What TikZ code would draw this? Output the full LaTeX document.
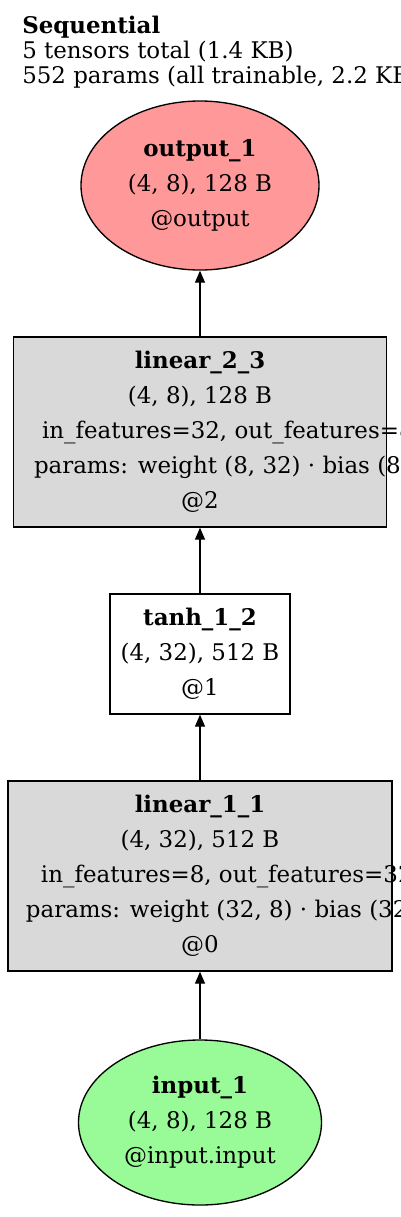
\documentclass[tikz,border=0pt]{standalone}
\usepackage{fontspec}
\setmainfont{DejaVu Serif}
\usetikzlibrary{shapes.geometric,arrows.meta}

\newlength\pxu
\setlength\pxu{0.75pt}

\definecolor{outred}{HTML}{FF9999}
\definecolor{ingreen}{HTML}{98FB98}
\definecolor{laygray}{HTML}{D9D9D9}

\begin{document}
\begin{tikzpicture}[
  x=0.75pt,
  y=-0.75pt,
  font=\fontsize{17.2}{26.25}\selectfont,
  layer/.style={
    rectangle,
    draw,
    line width=1pt,
    inner sep=0pt,
    align=center
  },
  tensor/.style={
    ellipse,
    draw,
    line width=1pt,
    inner sep=0pt,
    align=center
  },
  arr/.style={
    -{Triangle[length=9pt,width=7.5pt]},
    line width=1pt
  }
]

\useasboundingbox (0,0) rectangle (400,1217);

% =========================================================
% CABECERA
% =========================================================

\node[
  anchor=north west,
  align=left,
  inner sep=0pt,
  font=\fontsize{17.2}{18.75}\selectfont
] (head) at (22,16)
  {\textbf{Sequential}\\
   5 tensors total (1.4 KB)\\
   552 params (all trainable, 2.2 KB)};

% =========================================================
% NODOS
% =========================================================

\node[tensor, fill=outred, minimum width=238\pxu, minimum height=169\pxu]
  (out) at (200,185.5)
  {\textbf{output\_1}\\(4, 8), 128 B\\@output};

\node[layer, fill=laygray, minimum width=373\pxu, minimum height=190\pxu]
  (lin2) at (200,432)
  {\textbf{linear\_2\_3}\\
   (4, 8), 128 B\\
   \makebox[316\pxu][l]{in\_features=32, out\_features=8}\\
   \makebox[332\pxu][l]{params: weight (8, 32) · bias (8)}\\
   @2};

\node[layer, fill=white, minimum width=180\pxu, minimum height=120\pxu]
  (tanh) at (200,654)
  {\textbf{tanh\_1\_2}\\(4, 32), 512 B\\@1};

\node[layer, fill=laygray, minimum width=384\pxu, minimum height=190\pxu]
  (lin1) at (200,876)
  {\textbf{linear\_1\_1}\\
   (4, 32), 512 B\\
   \makebox[318\pxu][l]{in\_features=8, out\_features=32}\\
   \makebox[348\pxu][l]{params: weight (32, 8) · bias (32)}\\
   @0};

\node[tensor, fill=ingreen, minimum width=243\pxu, minimum height=165\pxu]
  (in) at (200,1122.5)
  {\textbf{input\_1}\\(4, 8), 128 B\\@input.input};

% =========================================================
% FLECHAS
% =========================================================

\draw[arr] (in) -- (lin1);
\draw[arr] (lin1) -- (tanh);
\draw[arr] (tanh) -- (lin2);
\draw[arr] (lin2) -- (out);

\end{tikzpicture}
\end{document}
